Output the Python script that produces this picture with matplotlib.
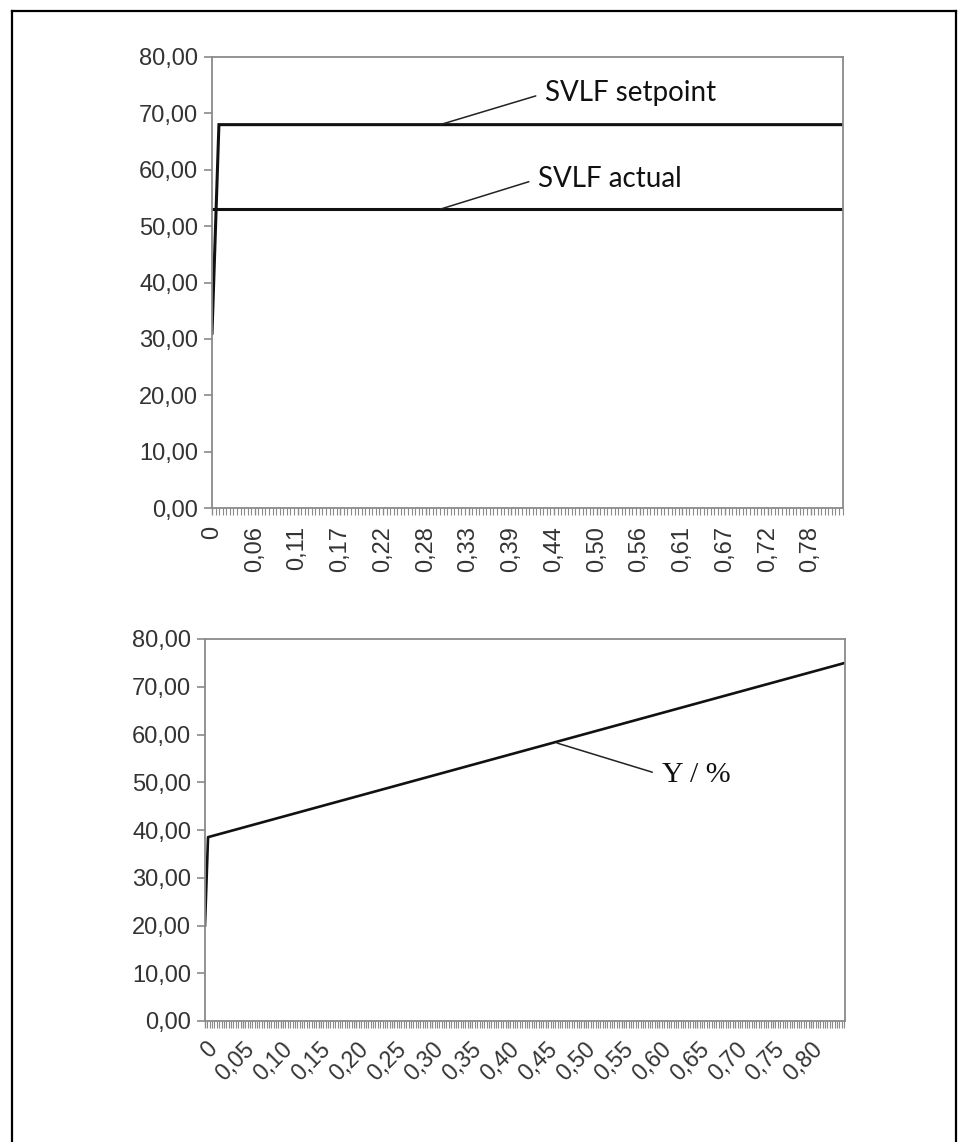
import matplotlib.pyplot as plt
from matplotlib.lines import Line2D
from matplotlib.ticker import MultipleLocator

# top chart: SVLF setpoint / actual
svlf_time = [0, 0.009, 0.82]
svlf_setpoint = [31, 68, 68]
svlf_actual_time = [0, 0.82]
svlf_actual = [53, 53]
top_xlabels = ['0', '0,06', '0,11', '0,17', '0,22', '0,28', '0,33', '0,39',
               '0,44', '0,50', '0,56', '0,61', '0,67', '0,72', '0,78']

# bottom chart: Y / %
y_time = [0, 0.004, 0.845]
y_pct = [20, 38.5, 75]
bottom_xlabels = ['0', '0,05', '0,10', '0,15', '0,20', '0,25', '0,30', '0,35', '0,40',
                  '0,45', '0,50', '0,55', '0,60', '0,65', '0,70', '0,75', '0,80']

yticks = list(range(0, 81, 10))
ylabels = [f'{v},00' for v in yticks]

GRAY = '#8a8a8a'
TICKFONT = 'Liberation Sans'
TXT = '#333333'

fig = plt.figure(figsize=(9.59, 11.42), dpi=100)

# outer frame (open at the bottom)
for xs, ys in [([12 / 959, 12 / 959], [0, 1 - 11 / 1142]),
               ([12 / 959, 956 / 959], [1 - 11 / 1142, 1 - 11 / 1142]),
               ([956 / 959, 956 / 959], [1 - 11 / 1142, 0])]:
    fig.add_artist(Line2D(xs, ys, transform=fig.transFigure, color='black', lw=1.6))


def style_axes(ax):
    for s in ax.spines.values():
        s.set_color(GRAY)
        s.set_linewidth(1.3)
    ax.set_ylim(0, 80)
    ax.set_yticks(yticks)
    ax.set_yticklabels(ylabels, fontfamily=TICKFONT, fontsize=17, color=TXT)
    ax.tick_params(axis='y', length=6, width=1.2, color=GRAY, pad=4)
    ax.tick_params(axis='x', which='major', length=5, width=1, color=GRAY)
    ax.tick_params(axis='x', which='minor', length=5, width=0.8, color=GRAY)


# ---- top
ax1 = fig.add_axes([212 / 959, 1 - 508 / 1142, 631 / 959, 451 / 1142])
style_axes(ax1)
ax1.plot(svlf_time, svlf_setpoint, color='#111111', lw=2.2, solid_joinstyle='miter')
ax1.plot(svlf_actual_time, svlf_actual, color='#111111', lw=2.2)
ax1.set_xlim(0, 0.82)
ax1.set_xticks([k / 18 for k in range(len(top_xlabels))])
ax1.set_xticklabels(top_xlabels, rotation=90, fontfamily=TICKFONT, fontsize=17,
                    color=TXT)
ax1.xaxis.set_minor_locator(MultipleLocator(1 / 216))
ax1.tick_params(axis='x', pad=8)

lead = dict(arrowstyle='-', color='#222222', lw=1.1, shrinkA=5, shrinkB=0,
            relpos=(0, 0.5))
ax1.annotate('SVLF setpoint', xy=(0.2965, 68), xytext=(0.433, 73.6),
             ha='left', va='center', fontsize=20, fontfamily='Lato',
             color='#111111', arrowprops=lead)
ax1.annotate('SVLF actual', xy=(0.2965, 53), xytext=(0.424, 58.4),
             ha='left', va='center', fontsize=20, fontfamily='Lato',
             color='#111111', arrowprops=lead)

# ---- bottom
ax2 = fig.add_axes([205 / 959, 1 - 1021 / 1142, 640 / 959, 382 / 1142])
style_axes(ax2)
ax2.plot(y_time, y_pct, color='#111111', lw=1.9)
ax2.set_xlim(0, 0.845)
ax2.set_xticks([k * 0.05 for k in range(len(bottom_xlabels))])
ax2.set_xticklabels(bottom_xlabels, rotation=45, ha='right', rotation_mode='anchor',
                    fontfamily=TICKFONT, fontsize=16.5, color=TXT)
ax2.xaxis.set_minor_locator(MultipleLocator(0.05 / 16))
ax2.tick_params(axis='x', pad=7)

ax2.annotate('Y / %', xy=(0.465, 58.2), xytext=(0.603, 51.5),
             ha='left', va='center', fontsize=21.5, fontfamily='Liberation Serif',
             color='#111111', arrowprops=lead)

fig.savefig('out.png', dpi=100)
